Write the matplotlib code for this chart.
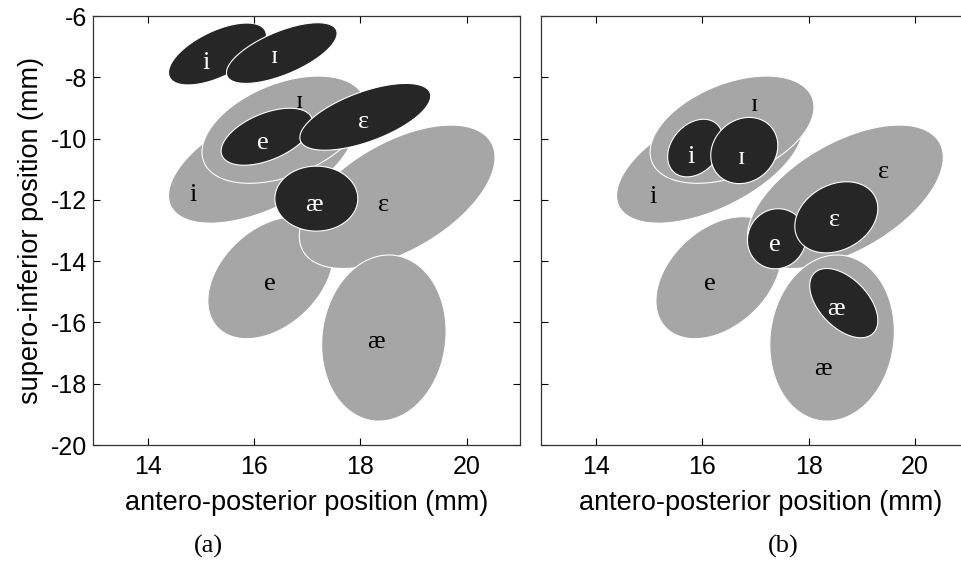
import numpy as np
import matplotlib.pyplot as plt

plt.rcParams['axes.unicode_minus'] = False

GRAY = '#a6a6a6'
DARK = '#262626'
SANS = ['Liberation Sans', 'DejaVu Sans']
SERIF = ['Liberation Serif', 'DejaVu Serif']

# gray regions, identical in both panels (drawn in this order)
gray_vowels = ['i', 'e', 'ɪ', 'ɛ', 'æ']
gray_cx = [16.14, 16.31, 16.56, 18.69, 18.44]
gray_cy = [-10.76, -14.54, -9.71, -11.90, -16.51]
gray_wx = [1.75, 1.18, 1.54, 1.84, 1.17]
gray_wy = [2.00, 1.99, 1.75, 2.34, 2.71]
gray_rho = [0.55, 0.38, 0.42, 0.55, 0.08]

# panel (a): dark regions
dark_a_vowels = ['i', 'ɪ', 'e', 'ɛ', 'æ']
dark_a_cx = [15.31, 16.52, 16.24, 18.09, 17.17]
dark_a_cy = [-7.24, -7.21, -9.94, -9.29, -11.96]
dark_a_wx = [0.92, 1.04, 0.86, 1.23, 0.78]
dark_a_wy = [1.01, 0.99, 0.93, 1.09, 1.06]
dark_a_rho = [0.60, 0.65, 0.50, 0.62, 0.0]
dark_a_lx = [15.10, 16.39, 16.17, 18.05, 17.12]
dark_a_ly = [-7.55, -7.33, -10.16, -9.45, -12.18]
gray_a_lx = [14.85, 16.29, 16.86, 18.43, 18.29]
gray_a_ly = [-11.85, -14.74, -8.80, -12.18, -16.64]

# panel (b): dark regions
dark_b_vowels = ['i', 'ɪ', 'e', 'ɛ', 'æ']
dark_b_cx = [15.87, 16.79, 17.40, 18.52, 18.66]
dark_b_cy = [-10.31, -10.39, -13.27, -12.57, -15.37]
dark_b_wx = [0.52, 0.63, 0.55, 0.78, 0.64]
dark_b_wy = [0.94, 1.08, 0.98, 1.16, 1.13]
dark_b_rho = [0.30, 0.15, 0.05, 0.25, -0.50]
dark_b_lx = [15.80, 16.74, 17.36, 18.49, 18.52]
dark_b_ly = [-10.60, -10.65, -13.48, -12.67, -15.55]
gray_b_lx = [15.07, 16.14, 16.99, 19.40, 18.27]
gray_b_ly = [-11.90, -14.74, -8.91, -11.09, -17.51]

x_ticks = [14, 16, 18, 20]
y_ticks = [-20, -18, -16, -14, -12, -10, -8, -6]


def ellipse_xy(cx, cy, wx, wy, rho, n=200):
    # ellipse with half-extents wx, wy and correlation rho
    t = np.linspace(0, 2 * np.pi, n)
    x = cx + wx * np.cos(t)
    y = cy + wy * (rho * np.cos(t) + np.sqrt(1 - rho ** 2) * np.sin(t))
    return x, y


def draw_regions(ax, cx, cy, wx, wy, rho, color):
    for k in range(len(cx)):
        x, y = ellipse_xy(cx[k], cy[k], wx[k], wy[k], rho[k])
        ax.fill(x, y, facecolor=color, edgecolor='white', linewidth=0.8)


def draw_labels(ax, names, lx, ly, color):
    for name, x, y in zip(names, lx, ly):
        ax.text(x, y, name, color=color, fontsize=19, family=SERIF,
                ha='center', va='center')


def style_axes(ax, xmax, show_ylabels):
    ax.set_xlim(12.97, xmax)
    ax.set_ylim(-20, -6)
    ax.set_xticks(x_ticks)
    ax.set_yticks(y_ticks)
    ax.tick_params(direction='in', length=5, width=0.8, top=True, right=True,
                   labelsize=18)
    ax.tick_params(axis='x', pad=7)
    ax.tick_params(axis='y', pad=4)
    for lab in ax.get_xticklabels() + ax.get_yticklabels():
        lab.set_family(SANS)
    if not show_ylabels:
        ax.set_yticklabels([])
    for s in ax.spines.values():
        s.set_linewidth(0.9)
        s.set_color('#333333')
    ax.set_xlabel('antero-posterior position (mm)', fontsize=19.5,
                  family=SANS, labelpad=8)


fig = plt.figure(figsize=(9.61, 5.86), dpi=100)
W, H = 961, 586
ax1 = fig.add_axes([93 / W, 1 - 445 / H, 427 / W, 429 / H])
ax2 = fig.add_axes([541 / W, 1 - 445 / H, 439 / W, 429 / H])

for ax in (ax1, ax2):
    draw_regions(ax, gray_cx, gray_cy, gray_wx, gray_wy, gray_rho, GRAY)

draw_regions(ax1, dark_a_cx, dark_a_cy, dark_a_wx, dark_a_wy, dark_a_rho, DARK)
draw_labels(ax1, gray_vowels, gray_a_lx, gray_a_ly, 'black')
draw_labels(ax1, dark_a_vowels, dark_a_lx, dark_a_ly, 'white')

draw_regions(ax2, dark_b_cx, dark_b_cy, dark_b_wx, dark_b_wy, dark_b_rho, DARK)
draw_labels(ax2, gray_vowels, gray_b_lx, gray_b_ly, 'black')
draw_labels(ax2, dark_b_vowels, dark_b_lx, dark_b_ly, 'white')

style_axes(ax1, 21.0, True)
style_axes(ax2, 21.22, False)
ax1.set_ylabel('supero-inferior position (mm)', fontsize=19.5, family=SANS,
               labelpad=5)

fig.text(208 / W, 1 - 546 / H, '(a)', fontsize=19, family=SERIF,
         ha='center', va='center')
fig.text(783 / W, 1 - 546 / H, '(b)', fontsize=19, family=SERIF,
         ha='center', va='center')

fig.savefig('out.png', dpi=100)
